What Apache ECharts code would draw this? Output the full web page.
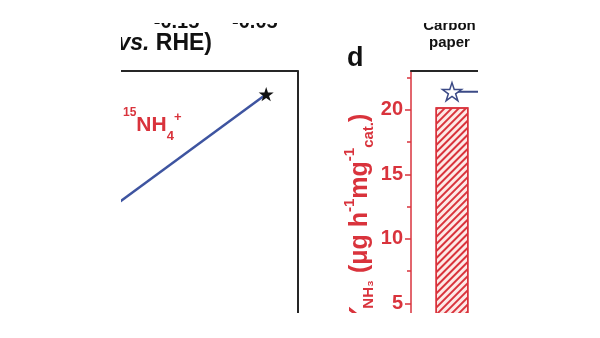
<!DOCTYPE html>
<html><head><meta charset="utf-8">
<script src="https://cdn.jsdelivr.net/npm/echarts@6/dist/echarts.min.js"></script>
<style>
html,body{margin:0;padding:0;background:#fff;width:600px;height:338px;overflow:hidden}
#clip{position:absolute;left:121px;top:23px;width:357px;height:290px;overflow:hidden;background:#fff}
#chart{position:absolute;left:-121px;top:-23px;width:800px;height:420px}
</style></head>
<body><div id="clip"><div id="chart"></div></div>
<script>
// ---- data ----
const potentialTicks = [-0.15, -0.05];                     // upper panel x tick labels (V vs. RHE)
const lineX = [-0.24, -0.04];                              // left panel, potential
const lineY = [12.3, 21.2];                                // left panel, value
const categories = ['Carbon\npaper', ''];                  // panel d categories
const barValues = [20.2, null];                            // Y_NH3 (µg h-1 mg-1 cat.)
const starValues = [21.4, 21.4];                           // star markers in panel d
const yTicks = [0, 5, 10, 15, 20];
const yMinorTicks = [2.5, 7.5, 12.5, 17.5, 22.5];

const RED = '#d9333c';
const FONT = 'Liberation Sans, Arial, sans-serif';
const STAR = 'path://M50 0 L61.2 34.5 L97.6 34.5 L68.2 55.9 L79.4 90.5 L50 69.1 L20.6 90.5 L31.8 55.9 L2.4 34.5 L38.8 34.5 Z';

const chart = echarts.init(document.getElementById('chart'), null, {renderer: 'canvas'});
chart.setOption({
  animation: false,
  backgroundColor: '#fff',
  textStyle: {fontFamily: FONT},
  grid: [
    {left: 20, top: 0, width: 274, height: 5},        // upper-left (only tick labels visible)
    {left: 408.5, top: 0, width: 164, height: 5},     // upper-right (only category label visible)
    {left: 23.5, top: 71, width: 274, height: 297},   // lower-left
    {left: 411, top: 71, width: 164, height: 297}     // panel d
  ],
  xAxis: [
    {gridIndex: 0, type: 'value', min: -0.35, max: 0, position: 'bottom',
     axisLine: {onZero: false, lineStyle: {color: '#222', width: 2}},
     axisTick: {customValues: potentialTicks, lineStyle: {color: '#222', width: 2}},
     splitLine: {show: false},
     axisLabel: {customValues: potentialTicks, color: '#111', fontSize: 20, fontWeight: 'bold', margin: 7,
                 formatter: v => v.toFixed(2)}},
    {gridIndex: 1, type: 'category', data: categories, position: 'bottom',
     axisLine: {onZero: false, lineStyle: {color: '#222', width: 2}}, axisTick: {show: false},
     axisLabel: {color: '#111', fontSize: 15, fontWeight: 'bold', lineHeight: 17, margin: 12, interval: 0}},
    {gridIndex: 2, type: 'value', min: -0.35, max: 0, position: 'top',
     axisLine: {onZero: false, lineStyle: {color: '#262626', width: 2}}, axisTick: {show: false},
     axisLabel: {show: false}, splitLine: {show: false}},
    {gridIndex: 3, type: 'category', data: categories, position: 'top',
     axisLine: {onZero: false, lineStyle: {color: '#262626', width: 2}}, axisTick: {show: false},
     axisLabel: {show: false}}
  ],
  yAxis: [
    {gridIndex: 0, type: 'value', show: false},
    {gridIndex: 1, type: 'value', show: false},
    {gridIndex: 2, type: 'value', min: 0, max: 23, position: 'right',
     axisLine: {show: true, onZero: false, lineStyle: {color: '#262626', width: 2}}, axisTick: {show: false},
     axisLabel: {show: false}, splitLine: {show: false}},
    {gridIndex: 3, type: 'value', min: 0, max: 23, position: 'left',
     axisLine: {show: true, onZero: false, lineStyle: {color: RED, width: 1.5}},
     axisTick: {show: true, customValues: yTicks, length: 6, lineStyle: {color: RED, width: 1.5}},
     axisLabel: {customValues: yTicks, color: RED, fontSize: 20, fontWeight: 'bold', margin: 8},
     splitLine: {show: false},
     name: '{i|Y}{sub|NH₃} {n|(μg h}{sup|-1}{n|mg}{sup|-1}{sub|cat.}{n|)}',
     nameLocation: 'middle', nameGap: 32, nameRotate: 90,
     nameTextStyle: {color: RED, fontWeight: 'bold', fontSize: 25,
       rich: {
         n: {color: RED, fontWeight: 'bold', fontSize: 25, lineHeight: 34, fontFamily: FONT},
         i: {color: RED, fontWeight: 'bold', fontStyle: 'italic', fontSize: 25, lineHeight: 34, fontFamily: FONT},
         sub: {color: RED, fontWeight: 'bold', fontSize: 15, lineHeight: 16, verticalAlign: 'bottom', fontFamily: FONT},
         sup: {color: RED, fontWeight: 'bold', fontSize: 15, lineHeight: 16, verticalAlign: 'top', fontFamily: FONT}
       }}},
    {gridIndex: 3, type: 'value', min: 0, max: 23, position: 'left',
     axisLine: {show: false, onZero: false},
     axisTick: {show: true, customValues: yMinorTicks, length: 4, lineStyle: {color: RED, width: 1.5}},
     axisLabel: {show: false}, splitLine: {show: false}}
  ],
  series: [
    {type: 'line', xAxisIndex: 2, yAxisIndex: 2,
     data: lineX.map((x, i) => ({value: [x, lineY[i]], symbol: i === lineX.length - 1 ? STAR : 'none'})),
     symbolSize: 15, symbolKeepAspect: true,
     lineStyle: {color: '#3e54a0', width: 2.5},
     itemStyle: {color: '#111'}},
    {type: 'bar', xAxisIndex: 3, yAxisIndex: 3, data: barValues, barWidth: 33,
     itemStyle: {color: '#fde9e7', borderColor: RED, borderWidth: 1.5,
       decal: {symbol: 'rect', symbolSize: 1, color: RED, dashArrayX: [1, 0], dashArrayY: [2, 3], rotation: -Math.PI / 4}}},
    {type: 'line', xAxisIndex: 3, yAxisIndex: 3, data: starValues,
     symbol: STAR, symbolSize: 19, symbolKeepAspect: true, showSymbol: true,
     lineStyle: {color: '#3b4a86', width: 2},
     itemStyle: {color: '#fff', borderColor: '#3b4a86', borderWidth: 1.5}}
  ],
  graphic: [
    {type: 'text', x: 212, y: 43.5, z: 10,
     style: {text: '{n|E (V }{i|vs.}{n| RHE)}', align: 'right', verticalAlign: 'middle',
       rich: {
         n: {fill: '#111', fontWeight: 'bold', fontSize: 23, fontFamily: FONT},
         i: {fill: '#111', fontWeight: 'bold', fontStyle: 'italic', fontSize: 23, fontFamily: FONT}
       }}},
    {type: 'text', x: 347, y: 59, z: 10,
     style: {text: 'd', fill: '#111', font: 'bold 27px ' + FONT, align: 'left', verticalAlign: 'middle'}},
    {type: 'text', x: 123, y: 125, z: 10,
     style: {text: '{s1|15}{b|NH}{sb|4}{s2|+}', align: 'left', verticalAlign: 'middle',
       rich: {
         s1: {fill: RED, fontWeight: 'bold', fontSize: 12, lineHeight: 9, verticalAlign: 'top', fontFamily: FONT},
         b: {fill: RED, fontWeight: 'bold', fontSize: 21, lineHeight: 36, fontFamily: FONT},
         sb: {fill: RED, fontWeight: 'bold', fontSize: 13, lineHeight: 18, verticalAlign: 'bottom', fontFamily: FONT},
         s2: {fill: RED, fontWeight: 'bold', fontSize: 13, lineHeight: 13, verticalAlign: 'middle', padding: [0, 0, 15, 0], fontFamily: FONT}
       }}}
  ]
});
</script>
</body></html>
